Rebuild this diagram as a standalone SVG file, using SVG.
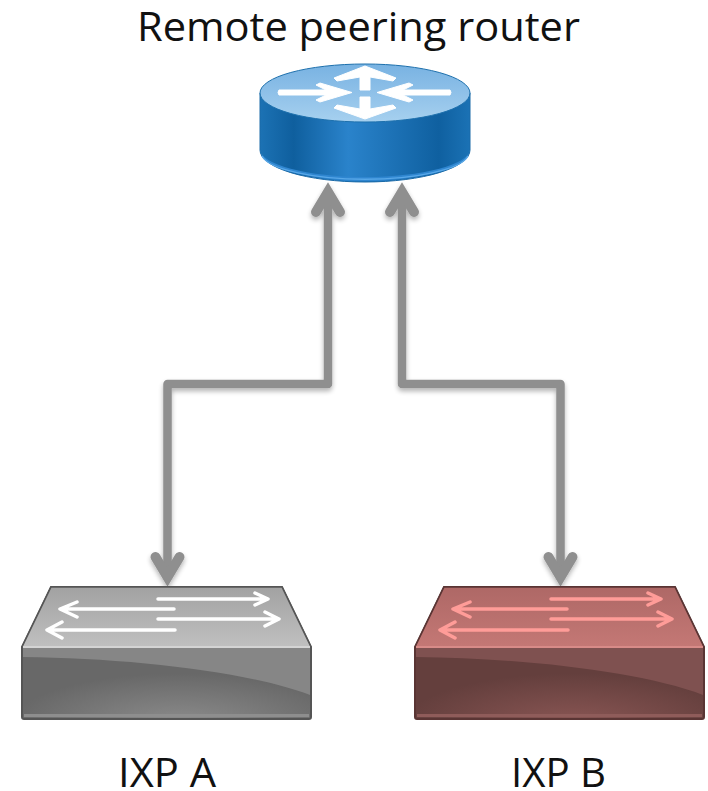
<svg xmlns="http://www.w3.org/2000/svg" width="708" height="791" viewBox="0 0 708 791">
<style>
text{font-family:"Open Sans","Lato","Liberation Sans",sans-serif;font-size:40px;fill:#111;text-anchor:middle}
.conn{fill:none;stroke:#8f8f8f;stroke-width:8.500;stroke-linejoin:round}
.head{fill:none;stroke:#8f8f8f;stroke-width:10;stroke-linecap:round;stroke-linejoin:miter}
.ra{fill:#fff;stroke:#fff;stroke-width:1;stroke-linejoin:round}
.sw{fill:none;stroke-linecap:round;stroke-linejoin:round}
</style>
<defs>
<marker id="ah" markerUnits="userSpaceOnUse" markerWidth="60" markerHeight="60" viewBox="-35 -30 60 60" refX="0" refY="0" orient="auto-start-reverse"><path class="head" d="M-20,-12L0,0L-20,12"/></marker>
<filter id="sh" x="-20%" y="-5%" width="140%" height="110%"><feGaussianBlur in="SourceAlpha" stdDeviation="2.500"/><feOffset dy="3"/><feComponentTransfer><feFuncA type="linear" slope="0.3"/></feComponentTransfer><feMerge><feMergeNode/><feMergeNode in="SourceGraphic"/></feMerge></filter>
<linearGradient id="rside" x1="0" x2="1" y1="0" y2="0"><stop offset="0" stop-color="#1c72b4"/><stop offset=".16" stop-color="#0f5f9e"/><stop offset=".42" stop-color="#2a83cb"/><stop offset=".85" stop-color="#0f60a0"/><stop offset="1" stop-color="#1b72b5"/></linearGradient>
<linearGradient id="rtop" x1="0" x2="0" y1="0" y2="1"><stop offset="0" stop-color="#78b2e2"/><stop offset="1" stop-color="#a6d0ef"/></linearGradient>
<linearGradient id="atop" x1="0" x2="0" y1="0" y2="1"><stop offset="0" stop-color="#a2a2a2"/><stop offset="1" stop-color="#c0c0c0"/></linearGradient>
<linearGradient id="btop" x1="0" x2="0" y1="0" y2="1"><stop offset="0" stop-color="#ae6866"/><stop offset="1" stop-color="#c47875"/></linearGradient>
<radialGradient id="afront" gradientUnits="userSpaceOnUse" cx="180" cy="725" r="170" gradientTransform="translate(0 507) scale(1 .3)"><stop offset="0" stop-color="#8c8c8c"/><stop offset="1" stop-color="#686868"/></radialGradient>
<radialGradient id="bfront" gradientUnits="userSpaceOnUse" cx="180" cy="725" r="170" gradientTransform="translate(0 507) scale(1 .3)"><stop offset="0" stop-color="#8a5654"/><stop offset="1" stop-color="#643f3d"/></radialGradient>
<path id="swarrows" d="M158,599H266M255,593L268,599L255,605M174,609H62M77,602L60,609L77,617M158,619H276M265,612L279,619L265,626M175,630H50M62,622L47,630L62,638"/>
</defs>
<g id="connectors" filter="url(#sh)">
<path class="conn" d="M328,192V384H167.500V577" marker-start="url(#ah)" marker-end="url(#ah)"/>
<path class="conn" d="M402,192V384H560.500V577" marker-start="url(#ah)" marker-end="url(#ah)"/>
</g>
<g id="router">
<path d="M260,93V150A105,32 0 0 0 470,150V93Z" fill="url(#rside)" stroke="#1a6aa8" stroke-width="1"/>
<path d="M260,149A105,32 0 0 0 470,149A105,28 0 0 1 260,149Z" fill="#2f86d0"/>
<path d="M262,156A104,27 0 0 0 468,156" fill="none" stroke="#59a8e8" stroke-width="1.500"/>
<ellipse cx="365" cy="93" rx="105" ry="29" fill="url(#rtop)" stroke="#1d70ad" stroke-width="1"/>
<path class="ra" d="M365,66L396,78L393,81L370,77V90H360V77L337,81L334,78Z"/>
<path class="ra" d="M360,97H370V109L393,105L396,108L365,119L334,108L337,105L360,109Z"/>
<path class="ra" d="M279,90H326L316,85L320,83L352,92.500L320,102L316,100L326,95H279Q277,92.500 279,90Z"/>
<path class="ra" d="M450,90H403L413,85L409,83L377,92.500L409,102L413,100L403,95H450Q452,92.500 450,90Z"/>
</g>
<g id="ixp-a">
<path d="M51,587H282L311,647V717Q311,719 309,719H24Q22,719 22,717V647Z" fill="url(#afront)" stroke="#555" stroke-width="2"/>
<path d="M51,587H282L311,647H22Z" fill="url(#atop)" stroke="#555" stroke-width="1.500" stroke-linejoin="round"/>
<path d="M23,648H310V695C250,672 130,658 23,657Z" fill="#868686"/>
<path d="M23,647H310" stroke="#d4d4d4" stroke-width="2"/>
<path d="M24,715.500H309" stroke="#8e8e8e" stroke-width="3"/>
<use href="#swarrows" class="sw" stroke="#fff" stroke-width="3.500"/>
</g>
<g id="ixp-b" transform="translate(393 0)">
<path d="M51,587H282L311,647V717Q311,719 309,719H24Q22,719 22,717V647Z" fill="url(#bfront)" stroke="#5a3534" stroke-width="2"/>
<path d="M51,587H282L311,647H22Z" fill="url(#btop)" stroke="#5a3534" stroke-width="1.500" stroke-linejoin="round"/>
<path d="M23,648H310V695C250,672 130,658 23,657Z" fill="#7f5150"/>
<path d="M23,647H310" stroke="#d88b88" stroke-width="2"/>
<path d="M24,715.500H309" stroke="#8f5c5a" stroke-width="3"/>
<use href="#swarrows" class="sw" stroke="#ff9c98" stroke-width="3.500"/>
</g>
<text x="358.500" y="41" textLength="443" lengthAdjust="spacingAndGlyphs">Remote peering router</text>
<text x="167" y="787" textLength="98" lengthAdjust="spacingAndGlyphs">IXP A</text>
<text x="558.500" y="787" textLength="95" lengthAdjust="spacingAndGlyphs">IXP B</text>
</svg>
